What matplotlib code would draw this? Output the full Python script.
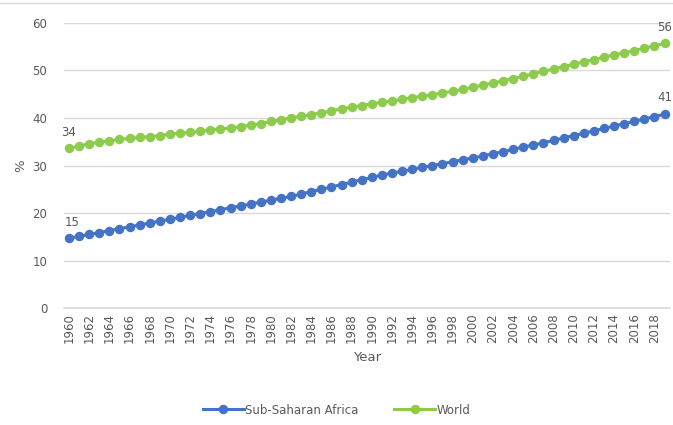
import numpy as np
import matplotlib.pyplot as plt

# Urban population (% of total)
years = list(range(1960, 2020))
ssa = [14.7, 15.1, 15.5, 15.9, 16.3, 16.7, 17.1, 17.5, 17.9, 18.3,
       18.7, 19.1, 19.5, 19.9, 20.3, 20.7, 21.1, 21.5, 21.9, 22.3,
       22.7, 23.1, 23.5, 24.0, 24.5, 25.0, 25.5, 26.0, 26.5, 27.0,
       27.5, 28.0, 28.4, 28.8, 29.2, 29.6, 30.0, 30.4, 30.8, 31.2,
       31.6, 32.0, 32.5, 32.9, 33.4, 33.9, 34.3, 34.8, 35.3, 35.8,
       36.3, 36.8, 37.3, 37.8, 38.3, 38.8, 39.3, 39.8, 40.3, 40.8]
world = [33.6, 34.1, 34.6, 34.9, 35.2, 35.5, 35.7, 35.9, 36.1, 36.3,
         36.6, 36.8, 37.0, 37.2, 37.5, 37.7, 37.9, 38.2, 38.5, 38.8,
         39.3, 39.6, 40.0, 40.4, 40.7, 41.1, 41.5, 41.9, 42.3, 42.6,
         43.0, 43.3, 43.6, 43.9, 44.3, 44.6, 44.9, 45.3, 45.6, 46.0,
         46.5, 46.9, 47.4, 47.8, 48.3, 48.8, 49.3, 49.8, 50.3, 50.8,
         51.3, 51.8, 52.3, 52.8, 53.3, 53.7, 54.2, 54.7, 55.2, 55.7]
labels_ssa = {0: "15", 59: "41"}
labels_world = {0: "34", 59: "56"}

blue = "#4472C4"
green = "#8DCB4C"
grey = "#595959"

fig = plt.figure(figsize=(6.73, 4.25), dpi=100)
ax = fig.add_axes([0.095, 0.275, 0.9, 0.671])

x = np.arange(len(years))
ax.plot(x, ssa, color=blue, lw=2.2, marker="o", ms=5.8, label="Sub-Saharan Africa")
ax.plot(x, world, color=green, lw=2.2, marker="o", ms=5.8, label="World")

for i, t in labels_ssa.items():
    ax.annotate(t, (x[i], ssa[i]), xytext=(2 if i == 0 else 0, 7), textcoords="offset points",
                ha="center", va="bottom", fontsize=8.5, color=grey)
for i, t in labels_world.items():
    ax.annotate(t, (x[i], world[i]), xytext=(0, 7), textcoords="offset points",
                ha="center", va="bottom", fontsize=8.5, color=grey)

ax.set_xlim(-0.5, len(years) - 0.5)
ax.set_ylim(0, 60)
ax.set_yticks(range(0, 61, 10))
ax.set_xticks(x[::2])
ax.set_xticklabels([str(y) for y in years[::2]], rotation=90)
ax.tick_params(axis="both", length=0, labelsize=8.5, colors=grey)
ax.tick_params(axis="y", pad=12)
ax.grid(axis="y", color="#D9D9D9", lw=1)
ax.axhline(0, color="#D9D9D9", lw=1.2, clip_on=False, zorder=0)
ax.set_axisbelow(True)
for s in ax.spines.values():
    s.set_visible(False)

ax.set_xlabel("Year", fontsize=9.5, color=grey, labelpad=6)
ax.set_ylabel("%", fontsize=9.5, color=grey, labelpad=4)

fig.legend(loc="lower center", ncol=2, frameon=False, fontsize=8.5,
           labelcolor=grey, bbox_to_anchor=(0.5, -0.005), handlelength=3.5,
           columnspacing=3, handletextpad=0.1)

fig.add_artist(plt.Line2D([0, 1], [0.993, 0.993], color="#D9D9D9", lw=1))

fig.savefig("out.png", dpi=100)
